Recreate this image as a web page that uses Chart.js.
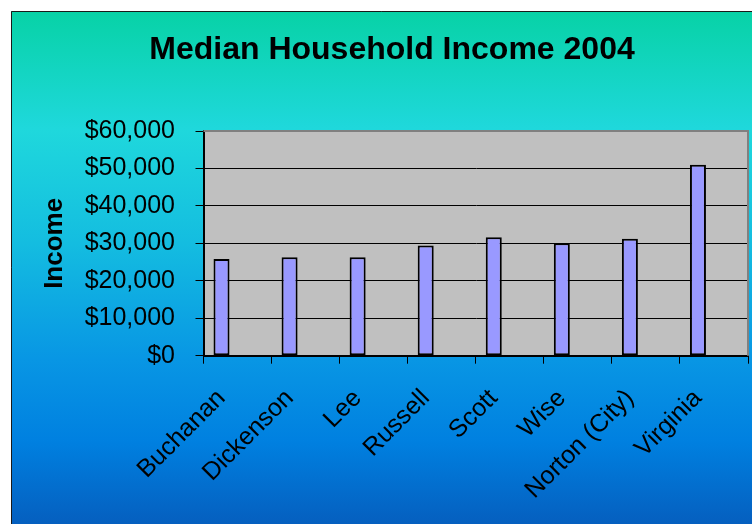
<!DOCTYPE html>
<html>
<head>
<meta charset="utf-8">
<script src="https://cdn.jsdelivr.net/npm/chart.js@4/dist/chart.umd.min.js"></script>
<style>
html,body{margin:0;padding:0;background:#fff;}
#wrap{width:752px;height:524px;position:relative;}
canvas{display:block;}
</style>
</head>
<body>
<div id="wrap"><canvas id="c" width="752" height="524"></canvas></div>
<script>
// ---- data ----
const categories = ["Buchanan", "Dickenson", "Lee", "Russell", "Scott", "Wise", "Norton (City)", "Virginia"];
const income2004 = [25800, 26300, 26300, 29400, 31600, 30000, 31200, 51000];
const emptySeriesA = [];
const emptySeriesB = [];
const yTickValues = [0, 10000, 20000, 30000, 40000, 50000, 60000];
const chartTitle = "Median Household Income 2004";
const yAxisTitle = "Income";

const FONT = "'Liberation Sans', Arial, sans-serif";

const bgPlugin = {
  id: 'bgPlugin',
  beforeDraw(chart) {
    const ctx = chart.ctx, a = chart.chartArea;
    ctx.save();
    ctx.fillStyle = '#ffffff';
    ctx.fillRect(0, 0, chart.width, chart.height);
    const g = ctx.createLinearGradient(0, 11, 0, 524);
    g.addColorStop(0.00, '#07d2a6');
    g.addColorStop(0.23, '#1fd8dc');
    g.addColorStop(0.45, '#14bde0');
    g.addColorStop(0.68, '#0896e4');
    g.addColorStop(0.84, '#0080e0');
    g.addColorStop(1.00, '#055fbf');
    ctx.fillStyle = g;
    ctx.fillRect(11, 11, chart.width - 11, chart.height - 11);
    ctx.strokeStyle = '#1a1a1a';
    ctx.lineWidth = 1;
    ctx.beginPath();
    ctx.moveTo(11.5, chart.height);
    ctx.lineTo(11.5, 11.5);
    ctx.lineTo(chart.width, 11.5);
    ctx.stroke();
    ctx.fillStyle = '#c0c0c0';
    ctx.fillRect(a.left, a.top, a.right - a.left, a.bottom - a.top);
    ctx.restore();
  },
  afterDraw(chart) {
    const ctx = chart.ctx, a = chart.chartArea;
    ctx.save();
    ctx.strokeStyle = '#808080';
    ctx.lineWidth = 2;
    ctx.beginPath();
    ctx.moveTo(a.left, a.top);
    ctx.lineTo(a.right, a.top);
    ctx.lineTo(a.right, a.bottom);
    ctx.stroke();
    ctx.restore();
  }
};

new Chart(document.getElementById('c'), {
  type: 'bar',
  data: {
    labels: categories,
    datasets: [
      {
        label: 'Median Household Income',
        data: income2004,
        backgroundColor: '#9999ff',
        borderColor: '#000000',
        borderWidth: 2,
        borderSkipped: false
      },
      { label: '', data: emptySeriesA, backgroundColor: '#993366' },
      { label: '', data: emptySeriesB, backgroundColor: '#ffffcc' }
    ]
  },
  options: {
    responsive: false,
    animation: false,
    events: [],
    layout: { padding: { left: 36, right: 4, top: 0, bottom: 0 } },
    datasets: { bar: { categoryPercentage: 0.706, barPercentage: 1.0 } },
    plugins: {
      legend: { display: false },
      tooltip: { enabled: false },
      title: {
        display: true,
        text: chartTitle,
        color: '#000',
        font: { family: FONT, size: 32, weight: 'bold' },
        padding: { top: 31.4, bottom: 61.2 }
      }
    },
    scales: {
      x: {
        type: 'category',
        grid: { offset: true, drawOnChartArea: false, drawTicks: true, tickLength: 8, color: '#000', lineWidth: 1 },
        border: { display: true, color: '#000', width: 2 },
        ticks: {
          autoSkip: false,
          maxRotation: 45,
          minRotation: 45,
          labelOffset: -16,
          padding: 20,
          color: '#000',
          font: { family: FONT, size: 25 }
        },
        afterFit(scale) { scale.height = 168.3; scale.paddingRight = 0; }
      },
      y: {
        min: yTickValues[0],
        max: yTickValues[yTickValues.length - 1],
        afterBuildTicks(scale) { scale.ticks = yTickValues.map(v => ({ value: v })); },
        grid: { color: '#000', lineWidth: 1, tickLength: 8, drawTicks: true },
        border: { display: true, color: '#000', width: 2 },
        ticks: {
          padding: 20.5,
          color: '#000',
          font: { family: FONT, size: 25 },
          callback: (v) => '$' + Number(v).toLocaleString('en-US')
        },
        title: {
          display: true,
          text: yAxisTitle,
          color: '#000',
          font: { family: FONT, size: 26, weight: 'bold' },
          padding: { top: 3, bottom: 0 }
        },
        afterFit(scale) { scale.width = 167.5; }
      }
    }
  },
  plugins: [bgPlugin]
});
</script>
</body>
</html>
